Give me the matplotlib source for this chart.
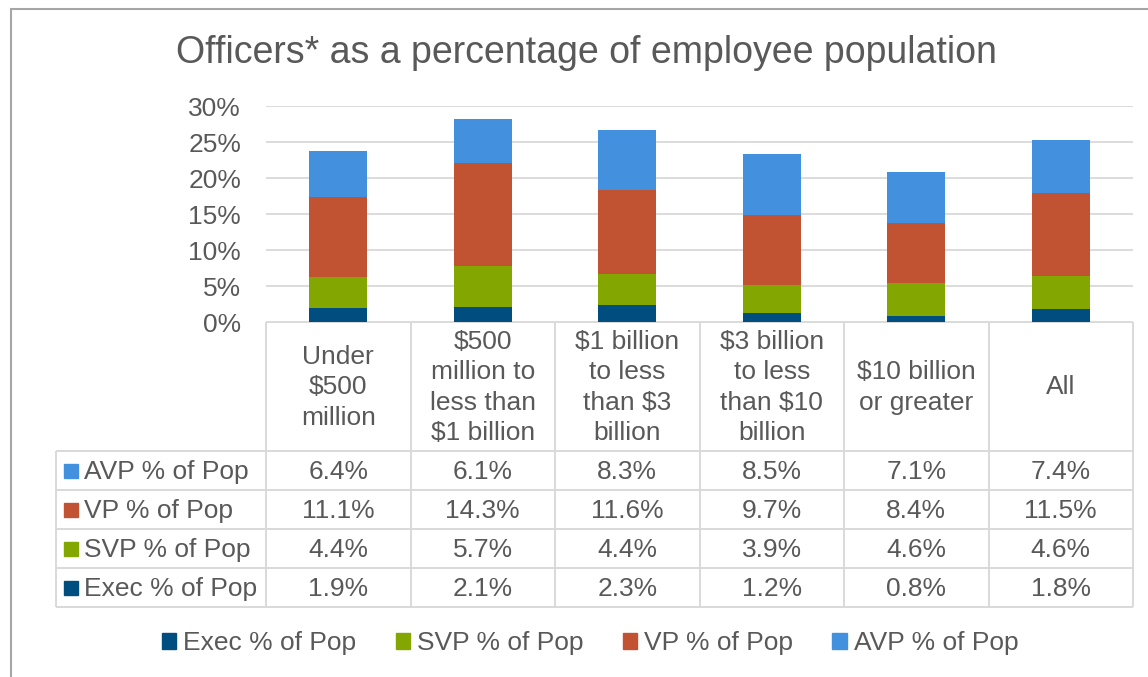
import numpy as np
import matplotlib
matplotlib.use("Agg")
import matplotlib.pyplot as plt
from matplotlib.patches import Patch, Rectangle

categories = ["Under\n$500\nmillion", "$500\nmillion to\nless than\n$1 billion",
              "$1 billion\nto less\nthan $3\nbillion", "$3 billion\nto less\nthan $10\nbillion",
              "$10 billion\nor greater", "All"]
series_names = ["Exec % of Pop", "SVP % of Pop", "VP % of Pop", "AVP % of Pop"]
exec_pct = [1.9, 2.1, 2.3, 1.2, 0.8, 1.8]
svp_pct = [4.4, 5.7, 4.4, 3.9, 4.6, 4.6]
vp_pct = [11.1, 14.3, 11.6, 9.7, 8.4, 11.5]
avp_pct = [6.4, 6.1, 8.3, 8.5, 7.1, 7.4]
yticks = [0, 5, 10, 15, 20, 25, 30]

colors = ["#004E80", "#83A600", "#C25332", "#4290DE"]
TXT = "#595959"
GRID = "#D9D9D9"
FS = 19

plt.rcParams['font.family'] = ['Liberation Sans', 'DejaVu Sans']

W, H = 1148, 677
fig = plt.figure(figsize=(W / 100, H / 100), dpi=100)


def fx(px):
    return px / W


def fy(py):
    return 1 - py / H


# --- bar area ---
plot_l, plot_r, plot_t, plot_b = 266, 1133, 106, 322
ax = fig.add_axes([fx(plot_l), fy(plot_b), (plot_r - plot_l) / W, (plot_b - plot_t) / H])
series = [exec_pct, svp_pct, vp_pct, avp_pct]
x = np.arange(len(categories))
bottom = np.zeros(len(categories))
for name, vals, c in zip(series_names, series, colors):
    ax.bar(x, vals, width=0.4, bottom=bottom, color=c, label=name, zorder=3)
    bottom += np.array(vals)

ax.set_xlim(-0.5, len(categories) - 0.5)
ax.set_ylim(0, 30)
ax.set_yticks(yticks)
ax.set_yticklabels([f"{t}%" for t in yticks], fontsize=FS, color=TXT)
ax.tick_params(axis="y", length=0, pad=18)
ax.set_xticks([])
for s in ax.spines.values():
    s.set_visible(False)
ax.grid(axis="y", color=GRID, lw=1.3, zorder=0)
ax.set_axisbelow(True)

# --- data table (pixel coords overlay) ---
tx = fig.add_axes([0, 0, 1, 1])
tx.set_xlim(0, W)
tx.set_ylim(H, 0)
tx.axis("off")
tx.set_zorder(-1)

ncol = len(categories)
col_edges = plot_l + (plot_r - plot_l) * np.arange(ncol + 1) / ncol
col_mid = (col_edges[:-1] + col_edges[1:]) / 2
tab_l = 56
row_edges = [322, 451, 490, 529, 568, 607]
lw_t = 1.4

tx.hlines(row_edges[0], plot_l, plot_r, color=GRID, lw=lw_t)
tx.hlines(row_edges[1:], tab_l, plot_r, color=GRID, lw=lw_t)
tx.vlines(tab_l, row_edges[1], row_edges[-1], color=GRID, lw=lw_t)
tx.vlines(col_edges, row_edges[0], row_edges[-1], color=GRID, lw=lw_t)

hdr_mid = (row_edges[0] + row_edges[1]) / 2 + 1
for xm, cat in zip(col_mid, categories):
    tx.text(xm, hdr_mid, cat, ha="center", va="center", fontsize=FS, color=TXT,
            linespacing=1.33)

rows = list(zip(series_names, series, colors))[::-1]
for i, (name, vals, c) in enumerate(rows):
    ym = (row_edges[i + 1] + row_edges[i + 2]) / 2 + 1.5
    tx.add_patch(Rectangle((64, ym - 8), 14, 14, color=c))
    tx.text(84, ym, name, ha="left", va="center", fontsize=FS, color=TXT)
    for xm, v in zip(col_mid, vals):
        tx.text(xm, ym, f"{v:.1f}%", ha="center", va="center", fontsize=FS, color=TXT)

# --- title, legend, frame ---
fig.text(fx(586), fy(53), "Officers* as a percentage of employee population",
         ha="center", va="center", fontsize=27, color=TXT)

handles = [Patch(color=c) for c in colors]
fig.legend(handles, series_names, loc="center", bbox_to_anchor=(fx(590), fy(643)),
           ncol=4, frameon=False, fontsize=FS, labelcolor=TXT,
           handlelength=0.55, handleheight=0.55, handletextpad=0.25,
           columnspacing=1.5)

fig.patches.append(Rectangle((fx(11), -0.1), 1.2, fy(9) + 0.1, transform=fig.transFigure,
                             fill=False, ec="#A6A6A6", lw=1.5))

fig.savefig("out.png", dpi=100)
